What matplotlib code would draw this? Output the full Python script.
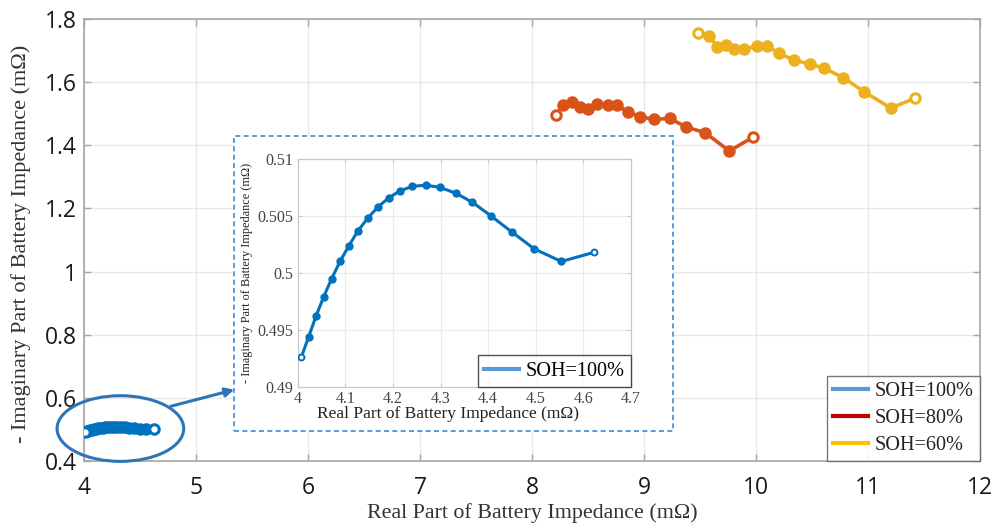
import matplotlib
matplotlib.use("Agg")
import matplotlib.pyplot as plt
from matplotlib.patches import Ellipse, Rectangle, FancyArrowPatch
from matplotlib.lines import Line2D
import numpy as np

# ---------------- data ----------------
soh100_x = [4.0077, 4.0231, 4.0385, 4.0546, 4.0714, 4.0889, 4.1078, 4.1267, 4.1470, 4.1687,
            4.1918, 4.2149, 4.2408, 4.2695, 4.2989, 4.3318, 4.3668, 4.4060, 4.4494, 4.4970,
            4.5537, 4.6223]
soh100_y = [0.4926, 0.4944, 0.4962, 0.4979, 0.4995, 0.5010, 0.5024, 0.5037, 0.5048, 0.5058,
            0.5066, 0.5072, 0.5076, 0.5077, 0.5075, 0.5070, 0.5062, 0.5050, 0.5036, 0.5021,
            0.5010, 0.5018]

soh80_x = [8.214, 8.280, 8.355, 8.429, 8.503, 8.578, 8.676, 8.756, 8.854, 8.964,
           9.089, 9.232, 9.375, 9.545, 9.762, 9.976]
soh80_y = [1.495, 1.528, 1.538, 1.520, 1.515, 1.531, 1.527, 1.527, 1.506, 1.491,
           1.482, 1.485, 1.458, 1.440, 1.382, 1.426]

soh60_x = [9.485, 9.583, 9.654, 9.732, 9.806, 9.896, 10.012, 10.101, 10.205, 10.339,
           10.482, 10.610, 10.780, 10.964, 11.203, 11.420]
soh60_y = [1.757, 1.746, 1.712, 1.717, 1.704, 1.704, 1.715, 1.714, 1.691, 1.670,
           1.657, 1.644, 1.614, 1.570, 1.518, 1.549]

legend_labels = ["SOH=100%", "SOH=80%", "SOH=60%"]
main_xticks = [4, 5, 6, 7, 8, 9, 10, 11, 12]
main_yticks = [0.4, 0.6, 0.8, 1.0, 1.2, 1.4, 1.6, 1.8]
main_yticklabels = ["0.4", "0.6", "0.8", "1", "1.2", "1.4", "1.6", "1.8"]
inset_xticks = [4, 4.1, 4.2, 4.3, 4.4, 4.5, 4.6, 4.7]
inset_xticklabels = ["4", "4.1", "4.2", "4.3", "4.4", "4.5", "4.6", "4.7"]
inset_yticks = [0.49, 0.495, 0.5, 0.505, 0.51]
inset_yticklabels = ["0.49", "0.495", "0.5", "0.505", "0.51"]

xlabel = "Real Part of Battery Impedance (m\u03a9)"
ylabel = "- Imaginary Part of Battery Impedance (m\u03a9)"

# ---------------- styles ----------------
c_blue = "#0072BD"
c_orange = "#D95319"
c_yellow = "#EDB120"
leg_colors = ["#5B9BD5", "#C00000", "#FFC000"]
c_anno = "#2E75B6"
c_box = "#3D8BD0"
frame_c = "#A6A6A6"
grid_c = "#E8E8E8"
sans = ["Open Sans", "DejaVu Sans"]
serif = ["Liberation Serif", "DejaVu Serif"]

fig = plt.figure(figsize=(9.96, 5.25), dpi=100)
ax = fig.add_axes([84 / 996, 1 - 461 / 525, 896 / 996, 442 / 525])


def draw_series(a, xs, ys, color, ms, lw, mew):
    a.plot(xs, ys, "-", color=color, lw=lw, zorder=3)
    a.plot(xs[1:-1], ys[1:-1], "o", color=color, ms=ms, mec=color, zorder=4)
    a.plot([xs[0], xs[-1]], [ys[0], ys[-1]], "o", ms=ms * 0.85, mfc="white",
           mec=color, mew=mew, zorder=5)


draw_series(ax, soh100_x, soh100_y, c_blue, 8, 2.8, 2.2)
draw_series(ax, soh80_x, soh80_y, c_orange, 8, 2.6, 2.2)
draw_series(ax, soh60_x, soh60_y, c_yellow, 8, 2.6, 2.2)

ax.set_xlim(4, 12)
ax.set_ylim(0.4, 1.8)
ax.set_xticks(main_xticks)
ax.set_xticklabels([str(v) for v in main_xticks])
ax.set_yticks(main_yticks)
ax.set_yticklabels(main_yticklabels)
ax.grid(True, color=grid_c, lw=1.0, zorder=0)
ax.set_axisbelow(True)
for s in ax.spines.values():
    s.set_color(frame_c)
    s.set_linewidth(1.2)
ax.tick_params(direction="in", length=5, width=1, color=frame_c,
               top=True, right=True, labelsize=16.5, pad=5)
ax.tick_params(axis="x", pad=11)
for lab in ax.get_xticklabels() + ax.get_yticklabels():
    lab.set_family(sans)
    lab.set_color("#1a1a1a")
ax.set_xlabel(xlabel, family=serif, fontsize=15.8, color="#333333", labelpad=2)
ax.set_ylabel(ylabel, family=serif, fontsize=16.0, color="#333333")
ax.yaxis.set_label_coords(-0.059, 0.491)

handles = [Line2D([0], [0], color=c, lw=3) for c in leg_colors]
leg = ax.legend(handles, legend_labels, loc="lower right", borderaxespad=0,
                prop={"family": serif, "size": 14.6}, frameon=True, fancybox=False,
                handlelength=1.7, handletextpad=0.35, labelspacing=0.38,
                borderpad=0.3)
leg.get_frame().set_edgecolor("#555555")
leg.get_frame().set_linewidth(1.0)
for t in leg.get_texts():
    t.set_color("#222222")

# ellipse around the SOH=100% cluster
cx = (min(soh100_x) + max(soh100_x)) / 2 + 0.01
cy = float(np.mean(soh100_y))
ew = (max(soh100_x) - min(soh100_x)) * 1.84
eh = 0.208
ell = Ellipse((cx, cy), ew, eh, fill=False, ec=c_anno, lw=2.2, clip_on=False, zorder=6)
ax.add_patch(ell)

# dashed box behind inset
rect = Rectangle((234 / 996, 1 - 431 / 525), 439 / 996, 295 / 525,
                 transform=fig.transFigure, facecolor="white", edgecolor=c_box,
                 lw=1.2, ls=(0, (3, 2)), zorder=1)
fig.add_artist(rect)

arrow = FancyArrowPatch((168 / 996, 1 - 407 / 525), (237 / 996, 1 - 389 / 525),
                        transform=fig.transFigure, arrowstyle="-|>", mutation_scale=13,
                        color=c_anno, lw=2.2, zorder=7)
fig.add_artist(arrow)

# inset
ins = fig.add_axes([297.7 / 996, 1 - 386.7 / 525, 333.3 / 996, 227.7 / 525], zorder=2)
draw_series(ins, soh100_x, soh100_y, c_blue, 5, 2.2, 1.4)
ins.set_xlim(4, 4.7)
ins.set_ylim(0.49, 0.51)
ins.set_xticks(inset_xticks)
ins.set_xticklabels(inset_xticklabels)
ins.set_yticks(inset_yticks)
ins.set_yticklabels(inset_yticklabels)
ins.grid(True, color="#EBEBEB", lw=0.8)
ins.set_axisbelow(True)
for s in ins.spines.values():
    s.set_color("#C8C8C8")
    s.set_linewidth(0.9)
ins.tick_params(direction="in", length=3, width=0.8, color="#C8C8C8",
                top=True, right=True, labelsize=11.5, pad=3, labelcolor="#444444")
for lab in ins.get_xticklabels() + ins.get_yticklabels():
    lab.set_family(serif)
ins.set_xlabel(xlabel, family=serif, fontsize=12.5, color="#222222", labelpad=1)
ins.xaxis.set_label_coords(0.45, -0.085)
ins.set_ylabel(ylabel, family=serif, fontsize=8.8, color="#222222", labelpad=3)
ileg = ins.legend([Line2D([0], [0], color=leg_colors[0], lw=3)], [legend_labels[0]],
                  loc="lower right", borderaxespad=0, prop={"family": serif, "size": 14.6},
                  frameon=True, fancybox=False, handlelength=1.7, handletextpad=0.35,
                  borderpad=0.3)
ileg.get_frame().set_edgecolor("#222222")
ileg.get_frame().set_linewidth(1.0)

fig.savefig("out.png", dpi=100)
